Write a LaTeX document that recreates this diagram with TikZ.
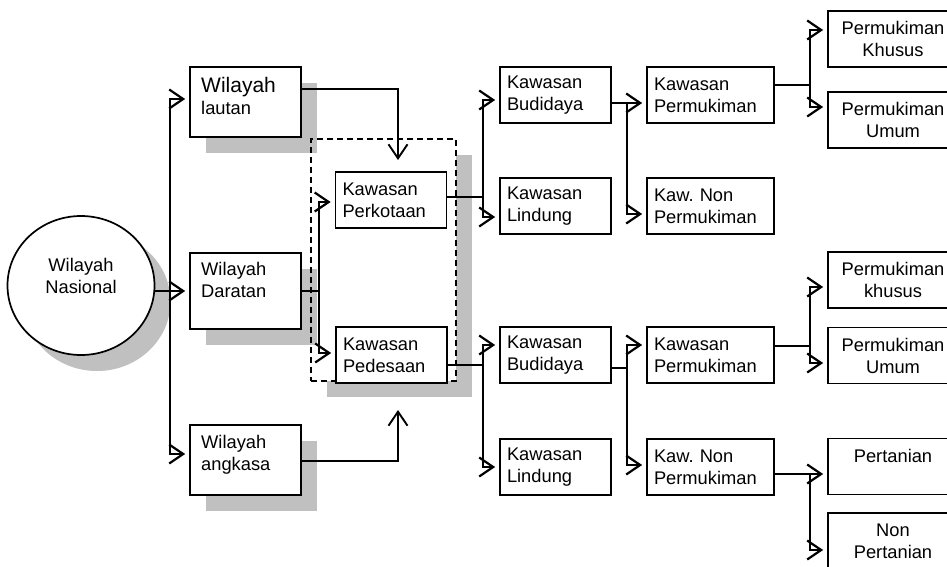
\documentclass[tikz,border=0pt]{standalone}
\usepackage{fontspec}
\setmainfont{Liberation Sans}
\usetikzlibrary{arrows.meta,shapes.geometric}
\definecolor{shadowgray}{RGB}{192,192,192}
\begin{document}
\begin{tikzpicture}[x=1pt,y=-1pt,
  font=\fontsize{18.3}{22}\selectfont,
  bx/.style={draw, line width=1.7pt, fill=white, inner xsep=7pt, inner ysep=0pt, align=left, minimum height=56pt},
  bw/.style={bx, text width=97pt, minimum width=111pt},
  bp/.style={bx, text width=113pt, minimum width=127pt},
  br/.style={draw, line width=1.7pt, fill=white, inner sep=0pt, align=center, minimum width=130pt, minimum height=56pt},
  wb/.style={draw, line width=1.7pt, fill=white, minimum width=111pt, inner sep=0pt},
  txt/.style={inner sep=0pt, align=left, anchor=north west},
  stub/.style={line width=1.4pt},
  arr/.style={line width=2.2pt, -{Straight Barb[length=14pt,width=19pt]}, shorten >=4pt},
  arr0/.style={line width=2.2pt, -{Straight Barb[length=14pt,width=19pt]}},
  grpbox/.style={draw, dash pattern=on 6pt off 4pt, line width=1.6pt, inner sep=0pt}
]
\useasboundingbox (0,0) rectangle (947,566);
\fill[white] (0,0) rectangle (947,566);

% group shadow and fill
\fill[shadowgray] (327,155) rectangle (472,397);
\fill[white] (311,139) rectangle (456,381);

% shadows
\fill[shadowgray] (97,301.5) ellipse [x radius=73.5pt, y radius=69.5pt];
\fill[shadowgray] (206,83) rectangle (317,153);
\fill[shadowgray] (206,269) rectangle (317,345);
\fill[shadowgray] (206,441) rectangle (317,511);

% dashed group
\node[grpbox, minimum width=145pt, minimum height=242pt] (grp) at (383.5,260) {};

% circle
\node[draw, ellipse, line width=1.7pt, fill=white, minimum width=147pt, minimum height=139pt, inner sep=0pt] (circ) at (81,285.5) {};
\node[inner sep=0pt, align=center] (circt) at (81,276) {Wilayah\\Nasional};

% Wilayah boxes
\node[wb, minimum height=70pt] (lau) at (245.5,102) {};
\node[txt] (laut) at (201,77.5) {{\fontsize{21}{22}\selectfont Wilayah}\\lautan};
\node[wb, minimum height=76pt] (dar) at (245.5,291) {};
\node[txt] (dart) at (201,262.5) {Wilayah\\Daratan};
\node[wb, minimum height=70pt] (ang) at (245.5,460) {};
\node[txt] (angt) at (201,435.5) {Wilayah\\angkasa};

% middle boxes
\node[bw] (kot) at (391,200) {Kawasan\\Perkotaan};
\node[bw] (des) at (391.5,355) {Kawasan\\Pedesaan};

\node[bw] (bud1) at (555.5,95) {Kawasan\\Budidaya};
\node[bw] (lin1) at (555.5,206) {Kawasan\\Lindung};
\node[bp] (per1) at (710.5,95) {Kawasan\\Permukiman};
\node[bp] (non1) at (710.5,206) {Kaw.\ Non\\Permukiman};

\node[bw] (bud2) at (555.5,355) {Kawasan\\Budidaya};
\node[bw] (lin2) at (555.5,467) {Kawasan\\Lindung};
\node[bp] (per2) at (710.5,355) {Kawasan\\Permukiman};
\node[bp] (non2) at (710.5,467) {Kaw.\ Non\\Permukiman};

\node[br] (pk1) at (893,39) {Permukiman\\Khusus};
\node[br] (pu1) at (893,120) {Permukiman\\Umum};
\node[br] (pk2) at (893,280) {Permukiman\\khusus};
\node[br] (pu2) at (893,355.5) {Permukiman\\Umum};
\node[br] (pt) at (893,466.5) {Pertanian\\\mbox{}};
\node[br] (npt) at (893,541) {Non\\Pertanian};

% connectors
\draw[arr] (circ.east |- dar.west) -- (dar.west);
\coordinate (tr) at (170,291);
\draw[arr] (tr) |- ([yshift=3pt]lau.west);
\draw[arr] (tr) |- ([yshift=6pt]ang.west);

\coordinate (gin) at (398,160);
\draw[arr0, line width=1.9pt] ([yshift=13pt]lau.east) -| (gin);
\coordinate (gup) at (398,410);
\draw[arr0, line width=1.9pt] ([yshift=-1pt]ang.east) -| (gup);

\coordinate (j1) at (319,291);
\draw[stub] (dar.east) -- (j1);
\draw[arr] (j1) |- ([yshift=-2pt]kot.west);
\draw[arr] (j1) |- ([yshift=2pt]des.west);

\coordinate (j2) at (483,197);
\draw[stub] ([yshift=3pt]kot.east) -- (j2);
\draw[arr] (j2) |- ([yshift=-5pt]bud1.west);
\draw[arr] (j2) |- ([yshift=-11pt]lin1.west);

\coordinate (j3) at (483,365);
\draw[stub] ([yshift=-10pt]des.east) -- (j3);
\draw[arr] (j3) |- ([yshift=10pt]bud2.west);
\draw[arr] (j3) |- (lin2.west);

\coordinate (j4) at (627,103);
\draw[stub] ([yshift=-8pt]bud1.east) -- (j4);
\draw[arr] (j4) -- ([yshift=-8pt]per1.west);
\draw[arr] (j4) |- ([yshift=-8pt]non1.west);

\coordinate (j5) at (627,368);
\draw[stub] ([yshift=-13pt]bud2.east) -- (j5);
\draw[arr] (j5) |- ([yshift=10pt]per2.west);
\draw[arr] (j5) |- ([yshift=2pt]non2.west);

\coordinate (j6) at (810,85);
\draw[stub] ([yshift=10pt]per1.east) -- (j6);
\draw[arr] (j6) |- ([yshift=9pt]pk1.west);
\draw[arr] (j6) |- ([yshift=13pt]pu1.west);

\coordinate (j7) at (810,346);
\draw[stub] ([yshift=9pt]per2.east) -- (j7);
\draw[arr] (j7) |- ([yshift=-7pt]pk2.west);
\draw[arr] (j7) |- ([yshift=-7.5pt]pu2.west);

\coordinate (j8) at (810,474);
\draw[stub] ([yshift=-7pt]non2.east) -- (j8);
\draw[arr] (j8) -- ([yshift=-7.5pt]pt.west);
\draw[arr] (j8) |- ([yshift=-9pt]npt.west);
\end{tikzpicture}
\end{document}
